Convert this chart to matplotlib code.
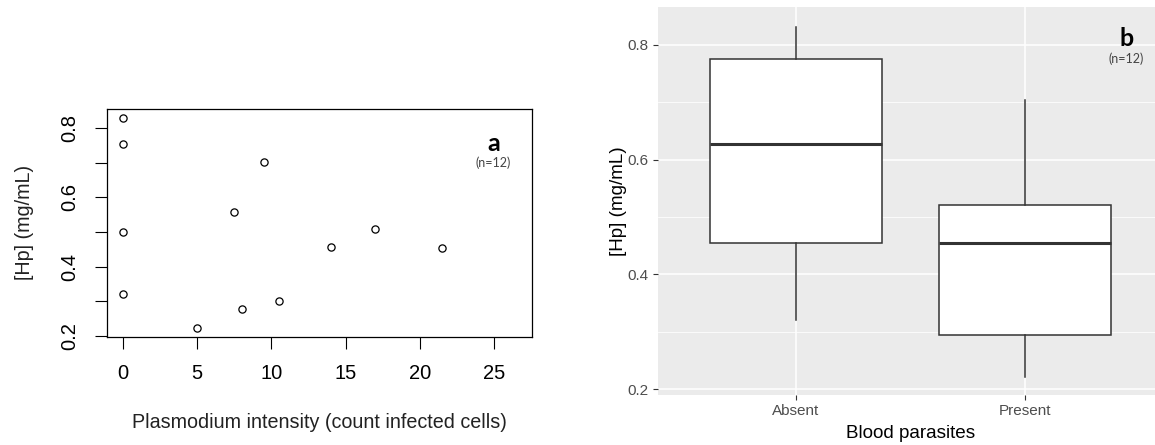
import matplotlib.pyplot as plt
import numpy as np

plt.rcParams['font.family'] = ['Liberation Sans', 'DejaVu Sans']

# infection intensity (count of infected cells) and haptoglobin concentration
intensity = [0, 0, 0, 0, 5, 7.5, 8, 9.5, 10.5, 14, 17, 21.5]
hp = [0.831, 0.755, 0.500, 0.320, 0.222, 0.558, 0.278, 0.703, 0.300, 0.457, 0.509, 0.453]

groups = ["Absent", "Present"]
x_ticks = [0, 5, 10, 15, 20, 25]
y_ticks_a = [0.2, 0.3, 0.4, 0.5, 0.6, 0.7, 0.8]
y_labels_a = ["0.2", "", "0.4", "", "0.6", "", "0.8"]

absent = [v for i, v in zip(intensity, hp) if i == 0]
present = [v for i, v in zip(intensity, hp) if i > 0]

fig = plt.figure(figsize=(11.55, 4.45), dpi=100)

# ---- panel a: base R style scatter
ax1 = fig.add_axes([0.0924, 0.2434, 0.368, 0.5117])
ax1.plot(intensity, hp, 'o', mfc='none', mec='black', ms=5.2, mew=0.9)
ax1.set_xlim(-1.07, 27.53)
ax1.set_ylim(0.197, 0.856)
ax1.set_xticks(x_ticks)
ax1.set_yticks(y_ticks_a)
ax1.set_yticklabels(y_labels_a, rotation=90, va='center')
ax1.tick_params(axis='both', direction='out', length=8.5, width=0.8, labelsize=14.5,
                colors='black')
ax1.tick_params(axis='y', pad=11)
ax1.tick_params(axis='x', pad=11)
for s in ax1.spines.values():
    s.set_linewidth(0.9)
ax1.set_xlabel("Plasmodium intensity (count infected cells)", fontsize=14.2, color='#222222')
ax1.set_ylabel("[Hp] (mg/mL)", fontsize=14.2, color='#222222')
ax1.xaxis.set_label_coords(0.5, -0.335)
ax1.yaxis.set_label_coords(-0.172, 0.5)
ax1.text(0.91, 0.849, "a", transform=ax1.transAxes, ha='center', va='center',
         fontsize=18, fontweight='bold', family='Lato')
ax1.text(0.91, 0.762, "(n=12)", transform=ax1.transAxes, ha='center', va='center',
         fontsize=9, family='Lato', color='#444444')

# ---- panel b: ggplot style boxplot
ax2 = fig.add_axes([0.5697, 0.1124, 0.4372, 0.8712])
ax2.set_facecolor('#EBEBEB')
ax2.set_axisbelow(True)
bp = ax2.boxplot([absent, present], positions=[1, 2], widths=0.75, whis=(0, 100),
                 patch_artist=True, showcaps=False, showfliers=False)
for b in bp['boxes']:
    b.set_facecolor('white')
    b.set_edgecolor('#333333')
    b.set_linewidth(1.1)
for w in bp['whiskers']:
    w.set_color('#333333')
    w.set_linewidth(1.1)
for m in bp['medians']:
    m.set_color('#333333')
    m.set_linewidth(2.2)
ax2.set_xlim(0.4, 2.6)
ax2.set_ylim(0.1904, 0.8648)
ax2.set_xticks([1, 2])
ax2.set_xticklabels(groups)
ax2.set_yticks([0.2, 0.4, 0.6, 0.8])
ax2.set_yticklabels(["0.2", "0.4", "0.6", "0.8"])
ax2.set_yticks([0.3, 0.5, 0.7], minor=True)
ax2.grid(which='major', color='white', linewidth=1.1)
ax2.grid(which='minor', axis='y', color='white', linewidth=0.55)
ax2.tick_params(axis='both', which='major', length=3.6, width=0.8, color='#333333',
                labelcolor='#4D4D4D', labelsize=11, pad=3)
ax2.tick_params(axis='y', which='minor', length=0)
for s in ax2.spines.values():
    s.set_visible(False)
ax2.set_xlabel("Blood parasites", fontsize=13.6, color='black')
ax2.set_ylabel("[Hp] (mg/mL)", fontsize=13.6, color='black')
ax2.xaxis.set_label_coords(0.5, -0.078)
ax2.yaxis.set_label_coords(-0.062, 0.5)
ax2.text(2.44, 0.811, "b", ha='center', va='center', fontsize=18, fontweight='bold',
         family='Lato')
ax2.text(2.44, 0.776, "(n=12)", ha='center', va='center', fontsize=9, family='Lato',
         color='#444444')

fig.savefig("out.png", dpi=100)
